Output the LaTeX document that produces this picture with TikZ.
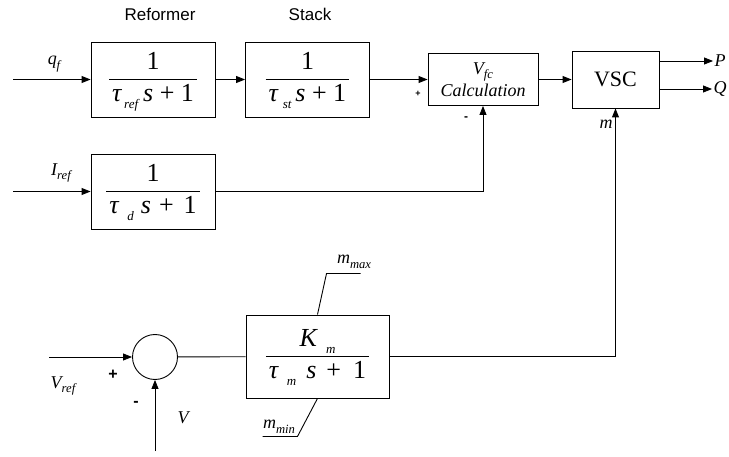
\documentclass[tikz,border=0pt]{standalone}
\usepackage{fontspec}
\setmainfont{Liberation Serif}
\newfontfamily\arialfont{Liberation Sans}
\usetikzlibrary{arrows.meta}
\setlength{\arrayrulewidth}{1.1pt}
\newcommand{\subs}[2][0.7]{\raisebox{-0.25em}{\scalebox{#1}{\itshape #2}}}
\newcommand{\blockfrac}[2]{\begin{tabular}{@{\hspace{3pt}}c@{\hspace{3pt}}}#1\\\hline #2\end{tabular}}
\begin{document}
\begin{tikzpicture}[x=1pt,y=-1pt,line width=0.9pt,>={Triangle[length=9pt,width=7pt]},
	blk/.style={draw,inner sep=0pt,minimum width=124pt,minimum height=75pt,font=\fontsize{26}{31}\selectfont},
	lbl/.style={inner sep=1pt,font=\fontsize{18}{20}\selectfont\itshape},
	ttl/.style={inner sep=1pt,font=\arialfont\fontsize{17}{19}\selectfont},
	sgn/.style={inner sep=0pt,font=\arialfont\bfseries\fontsize{16}{16}\selectfont}]
	    \useasboundingbox (0,0) rectangle (729,457);
	    \node[ttl] (RL) at (160,14) {Reformer};
	    \node[ttl] (SL) at (310,14) {Stack};
	    \node[blk] (RF) at (153,79.5) {\blockfrac{1}{\textit{τ}\hspace{2pt}\subs[0.5]{ref}\hspace{5pt}\textit{s} + 1}};
	    \node[blk] (ST) at (307.5,79.5) {\blockfrac{1}{\textit{τ}\hspace{4pt}\subs[0.5]{st}\hspace{4pt}\textit{s} + 1}};
	    \node[blk] (TD) at (153,191.5) {\blockfrac{1}{\textit{τ}\hspace{8pt}\subs[0.5]{d}\hspace{7pt}\textit{s}\hspace{8pt}+\hspace{10pt}1}};
	    \node[blk,minimum width=143pt,minimum height=83pt] (KM) at (317.5,356.5) {\blockfrac{\textit{K}\hspace{8pt}\subs[0.5]{m}}{\textit{τ}\hspace{8pt}\subs[0.5]{m}\hspace{10pt}\textit{s}\hspace{10pt}+\hspace{12pt}1}};
	    \node[draw,minimum width=110pt,minimum height=52pt,inner sep=0pt,align=center,font=\fontsize{18}{22}\selectfont\itshape] (VC) at (483,79.5) {V\subs{fc}\\Calculation};
	    \node[draw,minimum width=87pt,minimum height=57pt,inner sep=0pt,font=\fontsize{22}{24}\selectfont] (VS) at (615.5,79.5) {VSC};
	    \node[draw,circle,minimum size=45pt,inner sep=0pt] (SJ) at (155,357) {};
	    
	    \coordinate (QI) at (13,79.5);
	    \coordinate (II) at (13,191.5);
	    \coordinate (VI) at (49,357);
	    \coordinate (VB) at (155,451);
	    
	    \node[lbl] (QF) at (54,64) {q\subs{f}};
	    \node[lbl] (IR) at (61,173) {I\subs{ref}};
	    \node[lbl] (VR) at (63,386) {V\subs{ref}};
	    \node[lbl] (VV) at (183,418) {V};
	    \node[lbl] (MM) at (606,124) {m};
	    \node[lbl] (MX) at (354,262) {m\subs{max}};
	    \node[lbl] (MN) at (279,427) {m\subs{min}};
	    \node[lbl] (PP) at (720,61) {P};
	    \node[lbl] (QQ) at (720,89) {Q};
	    \node[sgn,font=\arialfont\bfseries\fontsize{9}{9}\selectfont] (SA) at (418,94) {+};
	    \node[sgn,font=\arialfont\bfseries\fontsize{12}{12}\selectfont] (SB) at (466,119) {-};
	    \node[sgn] (SC) at (113,375) {+};
	    \node[sgn] (SD) at (136,404) {-};
	    
	    \draw[->] (QI)--(RF);
	    \draw[->] (RF)--(ST);
	    \draw[->] (ST)--(VC);
	    \draw[->] (VC)--(VS);
	    \draw[->] (VS.east |- PP)--(PP);
	    \draw[->] (VS.east |- QQ)--(QQ);
	    \draw[->] (II)--(TD);
	    \draw[->] (TD)-|(VC);
	    \draw[->] (VI)--(SJ);
	    \draw[->] (VB)--(SJ);
	    \draw (SJ)--(KM);
	    \draw[->] (KM)-|(VS);
	    \draw (KM.north)--++(9,-41)--++(34,0);
	    \draw (KM.south)--++(-20,38)--++(-35,0);
\end{tikzpicture}
\end{document}
